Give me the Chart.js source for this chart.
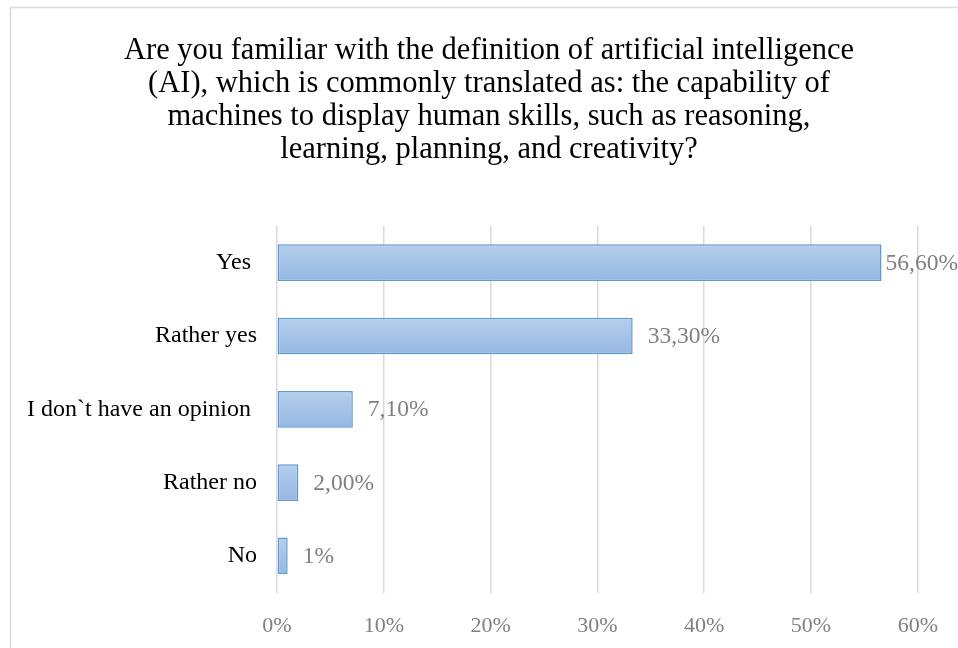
<!DOCTYPE html>
<html>
<head>
<meta charset="utf-8">
<script src="https://cdn.jsdelivr.net/npm/chart.js@4/dist/chart.umd.min.js"></script>
<style>
  html, body { margin: 0; padding: 0; background: #ffffff; }
  #wrap { width: 958px; height: 648px; position: relative; }
</style>
</head>
<body>
<div id="wrap"><canvas id="c" width="958" height="648"></canvas></div>
<script>
// ---- data ----
const titleLines = [
  "Are you familiar with the definition of artificial intelligence",
  "(AI), which is commonly translated as: the capability of",
  "machines to display human skills, such as reasoning,",
  "learning, planning, and creativity?"
];
const categories = ["Yes ", "Rather yes", "I don`t have an opinion ", "Rather no", "No"];
const values = [56.6, 33.3, 7.1, 2.0, 1];
const valueLabels = ["56,60%", "33,30%", "7,10%", "2,00%", "1%"];
const axisMin = 0;
const axisMax = 60;
const axisStep = 10;

const SERIF = '"Liberation Serif", "Times New Roman", serif';

const borderPlugin = {
  id: 'outerBorder',
  beforeDraw(chart) {
    const ctx = chart.ctx;
    ctx.save();
    ctx.fillStyle = '#ffffff';
    ctx.fillRect(0, 0, chart.width, chart.height);
    ctx.strokeStyle = '#d9d9d9';
    ctx.lineWidth = 1.5;
    ctx.strokeRect(10.5, 7.5, chart.width + 40, chart.height + 40);
    ctx.restore();
  }
};

// Title drawn centred on the (wider, cropped) chart frame
const titlePlugin = {
  id: 'frameTitle',
  afterDraw(chart) {
    const ctx = chart.ctx;
    ctx.save();
    ctx.font = '30.5px ' + SERIF;
    ctx.fillStyle = '#000000';
    ctx.textAlign = 'center';
    ctx.textBaseline = 'middle';
    titleLines.forEach((line, i) => {
      ctx.fillText(line, 489, 51 + i * 33);
    });
    ctx.restore();
  }
};

const valueLabelPlugin = {
  id: 'valueLabels',
  afterDatasetsDraw(chart) {
    const ctx = chart.ctx;
    const meta = chart.getDatasetMeta(0);
    ctx.save();
    ctx.font = '23.5px ' + SERIF;
    ctx.fillStyle = '#808080';
    ctx.textAlign = 'left';
    ctx.textBaseline = 'middle';
    meta.data.forEach((el, i) => {
      const txt = valueLabels[i];
      const w = ctx.measureText(txt).width;
      let x = el.x + 15;
      if (x + w > chart.width) x = chart.width - w;
      ctx.fillText(txt, x, el.y + 1);
    });
    ctx.restore();
  }
};

function barGradient(context) {
  const chart = context.chart;
  const yS = chart.scales && chart.scales.y;
  if (!yS || !chart.chartArea || context.dataIndex === undefined) return '#a6c3e7';
  const c = yS.getPixelForValue(context.dataIndex);
  const half = (yS.height / categories.length) * 0.5 / 2;
  if (!isFinite(c) || !isFinite(half)) return '#a6c3e7';
  const g = chart.ctx.createLinearGradient(0, c - half, 0, c + half);
  g.addColorStop(0, '#b6cfec');
  g.addColorStop(1, '#94b7e2');
  return g;
}

new Chart(document.getElementById('c'), {
  type: 'bar',
  data: {
    labels: categories,
    datasets: [{
      data: values,
      backgroundColor: barGradient,
      borderColor: '#5b9bd5',
      borderWidth: 1.5,
      borderSkipped: false,
      barPercentage: 0.5,
      categoryPercentage: 1.0
    }]
  },
  options: {
    indexAxis: 'y',
    responsive: false,
    animation: false,
    devicePixelRatio: 1,
    layout: { padding: { left: 27, right: 39, top: 226, bottom: -11 } },
    plugins: {
      legend: { display: false },
      tooltip: { enabled: false },
      title: { display: false }
    },
    scales: {
      x: {
        min: axisMin,
        max: axisMax,
        border: { display: false },
        grid: { color: '#d9d9d9', lineWidth: 1.5, drawTicks: false },
        ticks: {
          stepSize: axisStep,
          padding: 20,
          color: '#808080',
          font: { family: SERIF, size: 22 },
          callback: (v) => v + '%'
        }
      },
      y: {
        border: { display: false },
        grid: { display: false, drawTicks: false },
        ticks: {
          padding: 20,
          color: '#000000',
          font: { family: SERIF, size: 24 }
        },
        afterFit(axis) { axis.width = 250; }
      }
    }
  },
  plugins: [borderPlugin, titlePlugin, valueLabelPlugin]
});
</script>
</body>
</html>
